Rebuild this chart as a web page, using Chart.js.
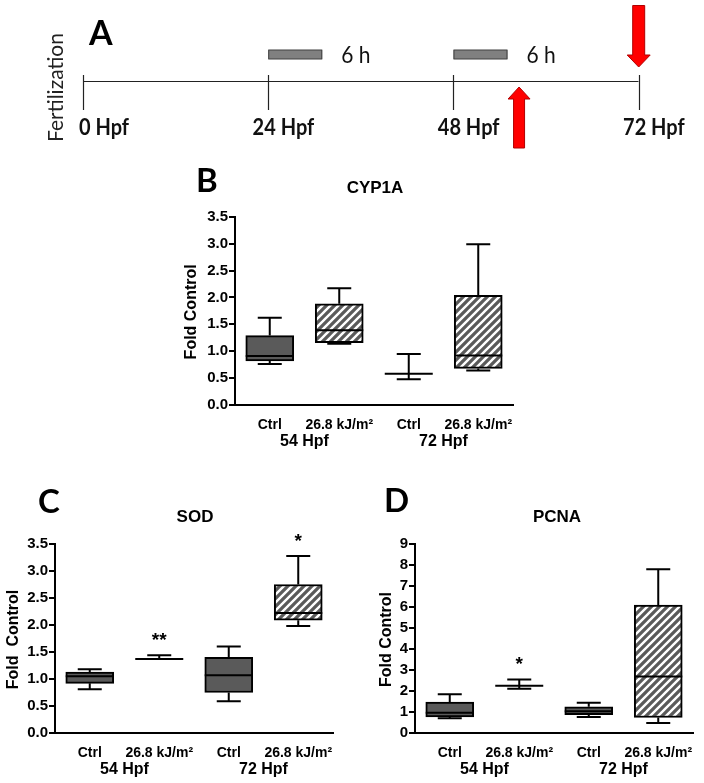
<!DOCTYPE html>
<html><head><meta charset="utf-8">
<script src="https://cdn.jsdelivr.net/npm/chart.js@4.4.0/dist/chart.umd.min.js"></script>
<style>
html,body{margin:0;padding:0;background:#fff;width:704px;height:783px;overflow:hidden}
.c{position:absolute}
</style></head><body>
<div class="c" style="left:0;top:0;width:704px;height:160px"><canvas id="cA"></canvas></div>
<div class="c" style="left:180px;top:160px;width:350px;height:295px"><canvas id="cB"></canvas></div>
<div class="c" style="left:0;top:470px;width:350px;height:313px"><canvas id="cC"></canvas></div>
<div class="c" style="left:360px;top:470px;width:344px;height:313px"><canvas id="cD"></canvas></div>
<script>
// ---------- Panel A data ----------
const timelineHours = [0, 24, 48, 72];
const timelineLabels = ['0 Hpf', '24 Hpf', '48 Hpf', '72 Hpf'];
const exposureStart = [24, 48];
const exposureEnd = [31, 55];
const exposureLabels = ['6 h', '6 h'];
const arrowUpHours = [56.5];
const arrowDownHours = [72];

// ---------- Box plot data ----------
const categories = ['Ctrl', '26.8 kJ/m\u00B2', 'Ctrl', '26.8 kJ/m\u00B2'];
const groupLabels = ['54 Hpf', '72 Hpf'];
const treated = [false, true, false, true];

const cypMin = [0.76, 1.14, 0.48, 0.64];
const cypQ1  = [0.82, 1.16, 0.58, 0.68];
const cypMed = [0.91, 1.39, 0.58, 0.92];
const cypQ3  = [1.29, 1.88, 0.58, 2.04];
const cypMax = [1.62, 2.17, 0.95, 2.99];
const cypSig = ['', '', '', ''];

const sodMin = [0.81, 1.37, 0.59, 1.98];
const sodQ1  = [0.92, 1.37, 0.75, 2.09];
const sodMed = [1.05, 1.37, 1.07, 2.22];
const sodQ3  = [1.13, 1.37, 1.40, 2.75];
const sodMax = [1.18, 1.44, 1.60, 3.28];
const sodSig = ['', '**', '', '*'];

const pcnaMin = [0.70, 2.11, 0.76, 0.48];
const pcnaQ1  = [0.76, 2.25, 0.87, 0.74];
const pcnaMed = [0.97, 2.25, 1.03, 2.69];
const pcnaQ3  = [1.47, 2.25, 1.25, 6.09];
const pcnaMax = [1.84, 2.55, 1.44, 7.80];
const pcnaSig = ['', '*', '', ''];

// ---------- common ----------
Chart.defaults.font.family = "'Liberation Sans', Arial, sans-serif";
Chart.defaults.color = '#000';
Chart.defaults.animation = false;

function makeHatch() {
  const c = document.createElement('canvas'); c.width = 8; c.height = 8;
  const g = c.getContext('2d');
  g.fillStyle = '#5a5a5a'; g.fillRect(0, 0, 8, 8);
  g.strokeStyle = '#ffffff'; g.lineWidth = 2.4;
  g.beginPath();
  g.moveTo(-2, 10); g.lineTo(10, -2);
  g.moveTo(-2, 2); g.lineTo(2, -2);
  g.moveTo(6, 10); g.lineTo(10, 6);
  g.stroke();
  return g.createPattern(c, 'repeat');
}
const hatch = makeHatch();
const solidFill = '#5a5a5a';

// ---------- Panel A ----------
function drawArrow(ctx, cx, tipY, tailY, shaftW, headW, headLen) {
  const dir = tailY > tipY ? 1 : -1;
  const hb = tipY + dir * headLen;
  ctx.beginPath();
  ctx.moveTo(cx, tipY);
  ctx.lineTo(cx + headW / 2, hb);
  ctx.lineTo(cx + shaftW / 2, hb);
  ctx.lineTo(cx + shaftW / 2, tailY);
  ctx.lineTo(cx - shaftW / 2, tailY);
  ctx.lineTo(cx - shaftW / 2, hb);
  ctx.lineTo(cx - headW / 2, hb);
  ctx.closePath();
  ctx.fillStyle = '#ff0000'; ctx.fill();
  ctx.strokeStyle = '#b00000'; ctx.lineWidth = 1; ctx.stroke();
}

const timelinePlugin = {
  id: 'timeline',
  afterDatasetsDraw(chart) {
    const { ctx, scales: { x, y } } = chart;
    const y0 = y.getPixelForValue(0);
    ctx.save();
    ctx.strokeStyle = '#222'; ctx.lineWidth = 1.2;
    timelineHours.forEach(h => {
      const px = Math.round(x.getPixelForValue(h)) + 0.5;
      ctx.beginPath(); ctx.moveTo(px, y0 - 6.5); ctx.lineTo(px, y0 + 28.5); ctx.stroke();
    });
    ctx.fillStyle = '#111';
    ctx.font = 'bold 20px Lato';
    ctx.textAlign = 'right'; ctx.textBaseline = 'alphabetic';
    timelineLabels.forEach((t, i) => {
      ctx.save();
      ctx.translate(x.getPixelForValue(timelineHours[i]) + 46, y0 + 53.5);
      ctx.scale(1, 1.12);
      ctx.fillText(t, 0, 0);
      ctx.restore();
    });
    exposureStart.forEach((s, i) => {
      const x1 = x.getPixelForValue(s), x2 = x.getPixelForValue(exposureEnd[i]);
      ctx.fillStyle = '#808080'; ctx.fillRect(x1, y0 - 31.5, x2 - x1, 9);
      ctx.strokeStyle = '#404040'; ctx.lineWidth = 1; ctx.strokeRect(x1 + 0.5, y0 - 31.5, x2 - x1 - 1, 9);
      ctx.fillStyle = '#111'; ctx.font = '21px Lato'; ctx.textAlign = 'left';
      ctx.save();
      ctx.translate(x2 + 19, y0 - 18.5);
      ctx.scale(1, 1.12);
      ctx.fillText(exposureLabels[i], 0, 0);
      ctx.restore();
    });
    arrowUpHours.forEach(h => drawArrow(ctx, x.getPixelForValue(h), y0 + 5.5, y0 + 66.5, 11, 22, 12));
    arrowDownHours.forEach(h => drawArrow(ctx, x.getPixelForValue(h), y0 - 14.5, y0 - 76, 12, 23, 12));
    ctx.save();
    ctx.translate(63, 87.5); ctx.rotate(-Math.PI / 2);
    ctx.textAlign = 'center'; ctx.textBaseline = 'alphabetic';
    ctx.font = '21px Lato'; ctx.fillStyle = '#222';
    ctx.fillText('Fertilization', 0, 0);
    ctx.restore();
    ctx.font = 'bold 34px Lato'; ctx.fillStyle = '#000'; ctx.textAlign = 'left';
    ctx.fillText('A', 89, 45);
    ctx.restore();
  }
};

new Chart(document.getElementById('cA'), {
  type: 'line',
  data: { datasets: [{ data: [{ x: timelineHours[0], y: 0 }, { x: timelineHours[timelineHours.length - 1], y: 0 }],
    borderColor: '#222', borderWidth: 1.2, pointRadius: 0 }] },
  options: {
    responsive: true, maintainAspectRatio: false,
    layout: { padding: { left: 83, right: 65.3, top: 3, bottom: 0 } },
    scales: { x: { type: 'linear', min: 0, max: 72, display: false }, y: { min: -1, max: 1, display: false } },
    plugins: { legend: { display: false }, tooltip: { enabled: false } }
  },
  plugins: [timelinePlugin]
});

// ---------- Box plots ----------
function boxChart(id, o) {
  const stats = o.stats;
  const boxPlugin = {
    id: 'box_' + id,
    afterDatasetsDraw(chart) {
      const { ctx, chartArea, scales: { x, y } } = chart;
      const meta = chart.getDatasetMeta(0);
      ctx.save();
      ctx.strokeStyle = '#000'; ctx.lineWidth = 2;
      stats.min.forEach((mn, i) => {
        const cx = x.getPixelForValue(i);
        const hw = meta.data[i].width / 2;
        const cap = 12;
        const pMin = y.getPixelForValue(mn), pQ1 = y.getPixelForValue(stats.q1[i]),
              pMed = y.getPixelForValue(stats.med[i]), pQ3 = y.getPixelForValue(stats.q3[i]),
              pMax = y.getPixelForValue(stats.max[i]);
        ctx.beginPath();
        if (pMax < pQ3 - 0.5) { ctx.moveTo(cx, pQ3); ctx.lineTo(cx, pMax); ctx.moveTo(cx - cap, pMax); ctx.lineTo(cx + cap, pMax); }
        if (pMin > pQ1 + 0.5) { ctx.moveTo(cx, pQ1); ctx.lineTo(cx, pMin); ctx.moveTo(cx - cap, pMin); ctx.lineTo(cx + cap, pMin); }
        ctx.moveTo(cx - hw, pMed); ctx.lineTo(cx + hw, pMed);
        ctx.stroke();
        if (stats.sig[i]) {
          ctx.font = 'bold 19px "Liberation Sans", Arial';
          ctx.fillStyle = '#000'; ctx.textAlign = 'center'; ctx.textBaseline = 'alphabetic';
          ctx.fillText(stats.sig[i], cx, pMax - 19 + 10);
        }
      });
      ctx.font = 'bold 16px "Liberation Sans", Arial';
      ctx.fillStyle = '#000'; ctx.textAlign = 'center'; ctx.textBaseline = 'middle';
      groupLabels.forEach((g, k) => {
        const gx = (x.getPixelForValue(2 * k) + x.getPixelForValue(2 * k + 1)) / 2;
        ctx.fillText(g, gx, chartArea.bottom + 37);
      });
      ctx.font = 'bold 17px "Liberation Sans", Arial';
      ctx.fillText(o.title, (chartArea.left + chartArea.right) / 2 + o.titleDx, o.titleY);
      ctx.font = 'bold 16px "Liberation Sans", Arial';
      ctx.save();
      ctx.translate(chartArea.left - o.yTitleDx, (chartArea.top + chartArea.bottom) / 2 + 1);
      ctx.rotate(-Math.PI / 2);
      ctx.fillText(o.yTitle, 0, 0);
      ctx.restore();
      ctx.font = 'bold 33px Lato'; ctx.textAlign = 'left'; ctx.textBaseline = 'alphabetic';
      ctx.fillText(o.letter, o.letterX, o.letterY);
      ctx.restore();
    }
  };
  return new Chart(document.getElementById(id), {
    type: 'bar',
    data: {
      labels: categories,
      datasets: [{
        data: stats.q1.map((v, i) => [v, stats.q3[i]]),
        backgroundColor: treated.map(t => t ? hatch : solidFill),
        borderColor: '#000', borderWidth: 2, borderSkipped: false,
        barThickness: 48
      }]
    },
    options: {
      responsive: true, maintainAspectRatio: false,
      layout: { padding: { left: 0, top: o.top, right: o.right, bottom: 0 } },
      scales: {
        x: {
          grid: { display: false },
          border: { display: true, color: '#000', width: 2 },
          ticks: { font: { size: 14, weight: 'bold' }, color: '#000', padding: 4, maxRotation: 0, autoSkip: false },
          afterFit(s) { s.height = 50; }
        },
        y: {
          min: 0, max: o.max,
          grid: { display: true, drawOnChartArea: false, drawTicks: true, tickLength: 6, color: '#000', lineWidth: 2 },
          border: { display: true, color: '#000', width: 2 },
          ticks: { stepSize: o.step, font: { size: 15, weight: 'bold' }, color: '#000', padding: 1,
                   callback: v => o.fmt(v) },
          afterFit(s) { s.width = 55; }
        }
      },
      plugins: { legend: { display: false }, tooltip: { enabled: false } }
    },
    plugins: [boxPlugin]
  });
}

boxChart('cB', {
  stats: { min: cypMin, q1: cypQ1, med: cypMed, q3: cypQ3, max: cypMax, sig: cypSig },
  title: 'CYP1A', titleY: 28, titleDx: 1, yTitle: 'Fold Control', yTitleDx: 43,
  letter: 'B', letterX: 16, letterY: 32, top: 56.7, right: 17, max: 3.5, step: 0.5,
  fmt: v => v.toFixed(1)
});
boxChart('cC', {
  stats: { min: sodMin, q1: sodQ1, med: sodMed, q3: sodQ3, max: sodMax, sig: sodSig },
  title: 'SOD', titleY: 47, titleDx: 1, yTitle: 'Fold  Control', yTitleDx: 41,
  letter: 'C', letterX: 38, letterY: 43, top: 74, right: 17, max: 3.5, step: 0.5,
  fmt: v => v.toFixed(1)
});
boxChart('cD', {
  stats: { min: pcnaMin, q1: pcnaQ1, med: pcnaMed, q3: pcnaQ3, max: pcnaMax, sig: pcnaSig },
  title: 'PCNA', titleY: 47, titleDx: 3, yTitle: 'Fold Control', yTitleDx: 28,
  letter: 'D', letterX: 24, letterY: 42, top: 74, right: 11, max: 9, step: 1,
  fmt: v => String(Math.round(v))
});
</script>
</body></html>
